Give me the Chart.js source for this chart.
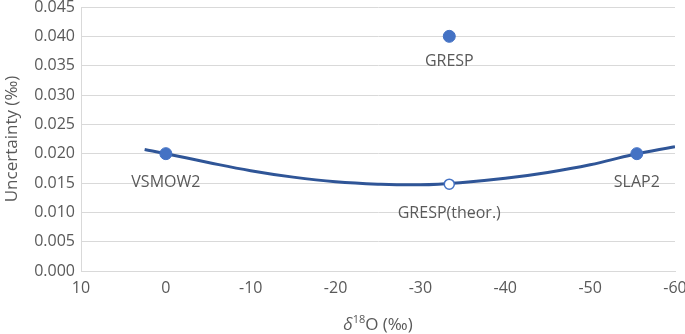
<!DOCTYPE html>
<html>
<head>
<meta charset="utf-8">
<script src="https://cdn.jsdelivr.net/npm/chart.js@4.4.0/dist/chart.umd.min.js"></script>
<style>
  html, body { margin: 0; padding: 0; background: #fff; }
  #wrap { width: 685px; height: 334px; }
</style>
</head>
<body>
<div id="wrap"><canvas id="chart" width="685" height="334"></canvas></div>
<script>
// data
var curveX = [2.5, 0, -5, -10, -15, -20, -25, -30, -35, -40, -45, -50, -55, -60]
var curveY = [0.0207, 0.0200, 0.0185, 0.0171, 0.0160, 0.0152, 0.0148, 0.0147, 0.0151, 0.0158, 0.0168, 0.0181, 0.0198, 0.0212]

var refNames = ['VSMOW2', 'GRESP', 'SLAP2']
var refX = [0, -33.4, -55.5]
var refY = [0.020, 0.040, 0.020]

var theorNames = ['GRESP(theor.)']
var theorX = [-33.4]
var theorY = [0.0148]

var textColor = '#595959'
var fontFamily = '"Open Sans", sans-serif'

function toPoints(xs, ys) {
    return xs.map(function (x, i) { return { x: x, y: ys[i] }; });
}

// label offsets (pixels) below / above points
var labelSpec = [
    { ds: 1, names: refNames, dy: [29, 25, 29] },
    { ds: 2, names: theorNames, dy: [29] }
]

var pointLabels = {
    id: 'pointLabels',
    afterDatasetsDraw: function (chart) {
        var ctx = chart.ctx;
        ctx.save();
        ctx.font = '16px ' + fontFamily;
        ctx.fillStyle = textColor;
        ctx.textAlign = 'center';
        ctx.textBaseline = 'middle';
        labelSpec.forEach(function (spec) {
            var meta = chart.getDatasetMeta(spec.ds);
            meta.data.forEach(function (pt, i) {
                ctx.fillText(spec.names[i], pt.x, pt.y + spec.dy[i]);
            });
        });
        ctx.restore();
    }
}

// x title with italic delta and superscript 18
var xTitle = {
    id: 'xTitle',
    afterDraw: function (chart) {
        var ctx = chart.ctx;
        var area = chart.chartArea;
        var cx = (area.left + area.right) / 2;
        var y = 325;
        ctx.save();
        ctx.fillStyle = textColor;
        ctx.textBaseline = 'middle';
        var parts = [
            { t: 'δ', f: 'italic 17px ' + fontFamily, dy: 0 },
            { t: '18', f: '11px ' + fontFamily, dy: -5 },
            { t: 'O (‰)', f: '17px ' + fontFamily, dy: 0 }
        ];
        var total = 0;
        parts.forEach(function (p) { ctx.font = p.f; p.w = ctx.measureText(p.t).width; total += p.w; });
        var x = cx - total / 2;
        ctx.textAlign = 'left';
        parts.forEach(function (p) {
            ctx.font = p.f;
            ctx.fillText(p.t, x, y + p.dy);
            x += p.w;
        });
        ctx.restore();
    }
}

var ctx = document.getElementById('chart').getContext('2d');
var chart = new Chart(ctx, {
    type: 'scatter',
    data: {
        datasets: [{
            data: toPoints(curveX, curveY),
            showLine: true,
            tension: 0.4,
            borderColor: '#2F5597',
            borderWidth: 3,
            pointRadius: 0,
            order: 3
        }, {
            data: toPoints(refX, refY),
            backgroundColor: '#4472C4',
            borderColor: '#4472C4',
            pointRadius: 6,
            order: 1
        }, {
            data: toPoints(theorX, theorY),
            backgroundColor: '#ffffff',
            borderColor: '#4472C4',
            borderWidth: 1.5,
            pointRadius: 5,
            order: 2
        }]
    },
    options: {
        responsive: false,
        animation: false,
        layout: { padding: 0 },
        plugins: {
            legend: { display: false },
            tooltip: { enabled: false }
        },
        scales: {
            x: {
                type: 'linear',
                min: -60,
                max: 10,
                reverse: true,
                grid: { display: false },
                border: { display: true, color: '#d9d9d9', width: 1 },
                ticks: {
                    stepSize: 10,
                    color: textColor,
                    font: { family: fontFamily, size: 16 },
                    padding: 0
                },
                afterFit: function (scale) {
                    scale.height = 63;
                    scale.paddingRight = 10;
                    scale.paddingLeft = 0;
                }
            },
            y: {
                min: 0,
                max: 0.045,
                grid: { color: '#d9d9d9', drawTicks: false },
                border: { display: true, color: '#d9d9d9', width: 1 },
                ticks: {
                    stepSize: 0.005,
                    color: textColor,
                    font: { family: fontFamily, size: 16 },
                    padding: 6,
                    callback: function (v) { return v.toFixed(3); }
                },
                title: {
                    display: true,
                    text: 'Uncertainty (‰)',
                    color: textColor,
                    font: { family: fontFamily, size: 17 },
                    padding: { top: 2, bottom: 0 }
                },
                afterFit: function (scale) {
                    scale.width = 81;
                    scale.paddingTop = 5;
                    scale.paddingBottom = 0;
                }
            }
        }
    },
    plugins: [pointLabels, xTitle]
});
</script>
</body>
</html>
